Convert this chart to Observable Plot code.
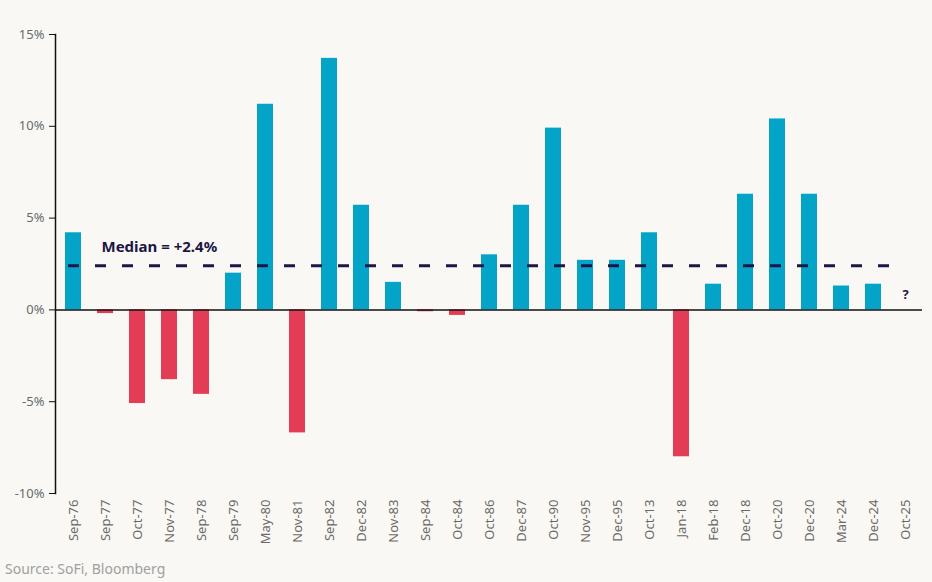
<!DOCTYPE html>
<html>
<head>
<meta charset="utf-8">
<script src="https://cdn.jsdelivr.net/npm/d3@7"></script>
<script src="https://cdn.jsdelivr.net/npm/@observablehq/plot@0.6"></script>
<style>
  html, body { margin: 0; padding: 0; background: #F9F8F4; }
  #chart { width: 932px; }
  .source { font-family: "Noto Sans", sans-serif; font-size: 14px; color: #a0a0a0; margin: 0 0 0 5px; line-height: 18px; }
</style>
</head>
<body>
<div id="chart"></div>
<div class="source">Source: SoFi, Bloomberg</div>
<script>
const categories = ["Sep-76","Sep-77","Oct-77","Nov-77","Sep-78","Sep-79","May-80","Nov-81","Sep-82","Dec-82","Nov-83","Sep-84","Oct-84","Oct-86","Dec-87","Oct-90","Nov-95","Dec-95","Oct-13","Jan-18","Feb-18","Dec-18","Oct-20","Dec-20","Mar-24","Dec-24","Oct-25"];
const values = [4.2,-0.2,-5.1,-3.8,-4.6,2.0,11.2,-6.7,13.7,5.7,1.5,-0.1,-0.3,3.0,5.7,9.9,2.7,2.7,4.2,-8.0,1.4,6.3,10.4,6.3,1.3,1.4,null];
const median = 2.4;
const medianLabel = "Median = +2.4%";
const unknownLabel = "?";
const yTicks = [-10,-5,0,5,10,15];

const data = categories.map((c, i) => ({cat: c, value: values[i]})).filter(d => d.value != null);

const chart = Plot.plot({
  width: 932,
  height: 560,
  marginTop: 34,
  marginBottom: 67,
  marginLeft: 55,
  marginRight: 10,
  style: {background: "#F9F8F4", fontFamily: "'Noto Sans', sans-serif", fontSize: "13px"},
  x: {domain: categories, paddingInner: 0.5, paddingOuter: 0.25, label: null},
  y: {domain: [-10, 15], label: null},
  marks: [
    Plot.barY(data, {x: "cat", y: "value", fill: d => d.value >= 0 ? "#03A4C8" : "#E23D55"}),
    Plot.ruleY([0], {stroke: "#111", strokeWidth: 1.5}),
    Plot.frame({anchor: "left", stroke: "#111", strokeWidth: 1.5}),
    Plot.axisY({ticks: yTicks, tickSize: 6, tickPadding: 5, stroke: "#111", fill: "#6a6a6a", tickFormat: d => d + "%", fontSize: 13}),
    Plot.axisX({tickSize: 0, tickRotate: -90, tickPadding: 6, fill: "#6a6a6a", fontSize: 13}),
    Plot.ruleY([median], {stroke: "#1C1545", strokeWidth: 3, strokeDasharray: "11,16", insetLeft: 13, insetRight: 22}),
    Plot.text([medianLabel], {x: () => "Sep-77", y: () => median, text: d => d, textAnchor: "start", dx: -4, dy: -19, fill: "#1C1545", fontWeight: "bold", fontSize: 15}),
    Plot.text([unknownLabel], {x: () => "Oct-25", y: () => 0, text: d => d, dy: -15, fill: "#1C1545", fontWeight: "bold", fontSize: 13})
  ]
});
document.getElementById("chart").append(chart);
</script>
</body>
</html>
